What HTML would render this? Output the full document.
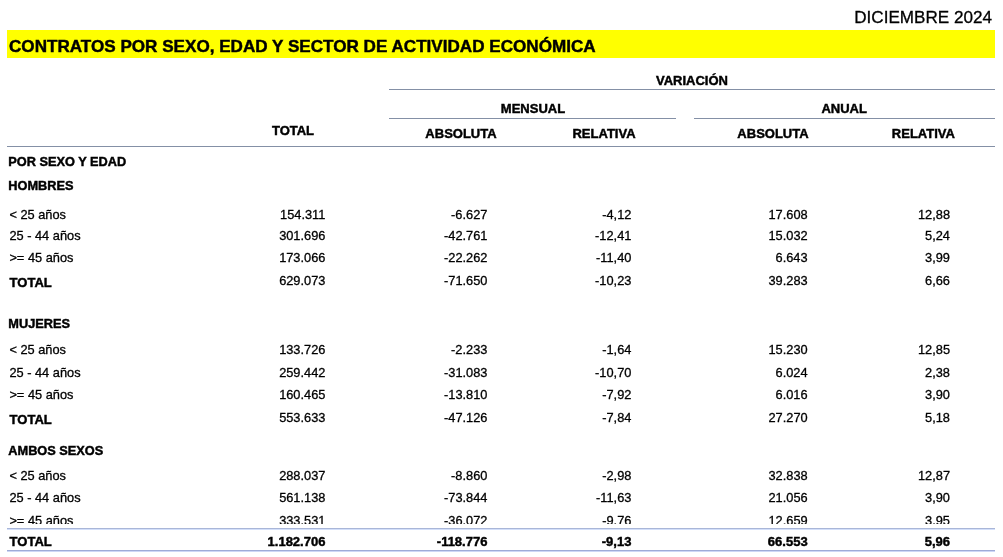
<!DOCTYPE html>
<html><head><meta charset="utf-8">
<style>
html,body{margin:0;padding:0;background:#fff;}
body{width:1003px;height:557px;overflow:hidden;position:relative;font-family:"Liberation Sans",Arial,sans-serif;color:#000;}
.t{position:absolute;white-space:nowrap;line-height:1;-webkit-text-stroke:0.3px #000;}
.b{font-weight:bold;-webkit-text-stroke:0.45px #000;}
.ln{position:absolute;height:1px;background:#8490a6;}
.band{position:absolute;left:6.5px;top:29.7px;width:988px;height:28.3px;background:#ffff00;}
</style></head><body>
<div class="t" style="top:9px;font-size:17.1px;right:11px;">DICIEMBRE 2024</div>
<div class="band"></div>
<div class="t b" style="top:37.5px;font-size:17.1px;left:9px;">CONTRATOS POR SEXO, EDAD Y SECTOR DE ACTIVIDAD ECONÓMICA</div>
<div class="t b" style="top:74px;font-size:13px;left:542px;width:300px;text-align:center;">VARIACIÓN</div>
<div class="ln" style="left:389px;width:605.5px;top:89px;height:1px;background:#8490a6;"></div>
<div class="t b" style="top:102px;font-size:13px;left:383px;width:300px;text-align:center;">MENSUAL</div>
<div class="t b" style="top:102px;font-size:13px;left:694.2px;width:300px;text-align:center;">ANUAL</div>
<div class="ln" style="left:389px;width:287px;top:118px;height:1px;background:#8490a6;"></div>
<div class="ln" style="left:694px;width:300.5px;top:118px;height:1px;background:#8490a6;"></div>
<div class="t b" style="top:124px;font-size:13px;left:143px;width:300px;text-align:center;">TOTAL</div>
<div class="t b" style="top:127px;font-size:13px;left:311px;width:300px;text-align:center;">ABSOLUTA</div>
<div class="t b" style="top:127px;font-size:13px;left:454px;width:300px;text-align:center;">RELATIVA</div>
<div class="t b" style="top:127px;font-size:13px;left:623px;width:300px;text-align:center;">ABSOLUTA</div>
<div class="t b" style="top:127px;font-size:13px;left:773.4px;width:300px;text-align:center;">RELATIVA</div>
<div class="ln" style="left:6.5px;width:988.0px;top:146px;height:1px;background:#8490a6;"></div>
<div class="t b" style="top:156px;font-size:12.75px;left:8.3px;">POR SEXO Y EDAD</div>
<div class="t b" style="top:180px;font-size:12.75px;left:8.3px;">HOMBRES</div>
<div class="t" style="top:209px;font-size:12.8px;left:9.4px;">&lt; 25 años</div>
<div class="t" style="top:209px;font-size:12.8px;right:677.6px;">154.311</div>
<div class="t" style="top:209px;font-size:12.8px;right:515.6px;">-6.627</div>
<div class="t" style="top:209px;font-size:12.8px;right:371.6px;">-4,12</div>
<div class="t" style="top:209px;font-size:12.8px;right:195.39999999999998px;">17.608</div>
<div class="t" style="top:209px;font-size:12.8px;right:53.0px;">12,88</div>
<div class="t" style="top:230px;font-size:12.8px;left:9.4px;">25 - 44 años</div>
<div class="t" style="top:230px;font-size:12.8px;right:677.6px;">301.696</div>
<div class="t" style="top:230px;font-size:12.8px;right:515.6px;">-42.761</div>
<div class="t" style="top:230px;font-size:12.8px;right:371.6px;">-12,41</div>
<div class="t" style="top:230px;font-size:12.8px;right:195.39999999999998px;">15.032</div>
<div class="t" style="top:230px;font-size:12.8px;right:53.0px;">5,24</div>
<div class="t" style="top:252px;font-size:12.8px;left:9.4px;">&gt;= 45 años</div>
<div class="t" style="top:252px;font-size:12.8px;right:677.6px;">173.066</div>
<div class="t" style="top:252px;font-size:12.8px;right:515.6px;">-22.262</div>
<div class="t" style="top:252px;font-size:12.8px;right:371.6px;">-11,40</div>
<div class="t" style="top:252px;font-size:12.8px;right:195.39999999999998px;">6.643</div>
<div class="t" style="top:252px;font-size:12.8px;right:53.0px;">3,99</div>
<div class="t b" style="top:276px;font-size:13px;left:9.6px;">TOTAL</div>
<div class="t" style="top:275px;font-size:12.8px;right:677.6px;">629.073</div>
<div class="t" style="top:275px;font-size:12.8px;right:515.6px;">-71.650</div>
<div class="t" style="top:275px;font-size:12.8px;right:371.6px;">-10,23</div>
<div class="t" style="top:275px;font-size:12.8px;right:195.39999999999998px;">39.283</div>
<div class="t" style="top:275px;font-size:12.8px;right:53.0px;">6,66</div>
<div class="t b" style="top:318px;font-size:12.75px;left:8.3px;">MUJERES</div>
<div class="t" style="top:344px;font-size:12.8px;left:9.4px;">&lt; 25 años</div>
<div class="t" style="top:344px;font-size:12.8px;right:677.6px;">133.726</div>
<div class="t" style="top:344px;font-size:12.8px;right:515.6px;">-2.233</div>
<div class="t" style="top:344px;font-size:12.8px;right:371.6px;">-1,64</div>
<div class="t" style="top:344px;font-size:12.8px;right:195.39999999999998px;">15.230</div>
<div class="t" style="top:344px;font-size:12.8px;right:53.0px;">12,85</div>
<div class="t" style="top:367px;font-size:12.8px;left:9.4px;">25 - 44 años</div>
<div class="t" style="top:367px;font-size:12.8px;right:677.6px;">259.442</div>
<div class="t" style="top:367px;font-size:12.8px;right:515.6px;">-31.083</div>
<div class="t" style="top:367px;font-size:12.8px;right:371.6px;">-10,70</div>
<div class="t" style="top:367px;font-size:12.8px;right:195.39999999999998px;">6.024</div>
<div class="t" style="top:367px;font-size:12.8px;right:53.0px;">2,38</div>
<div class="t" style="top:389px;font-size:12.8px;left:9.4px;">&gt;= 45 años</div>
<div class="t" style="top:389px;font-size:12.8px;right:677.6px;">160.465</div>
<div class="t" style="top:389px;font-size:12.8px;right:515.6px;">-13.810</div>
<div class="t" style="top:389px;font-size:12.8px;right:371.6px;">-7,92</div>
<div class="t" style="top:389px;font-size:12.8px;right:195.39999999999998px;">6.016</div>
<div class="t" style="top:389px;font-size:12.8px;right:53.0px;">3,90</div>
<div class="t b" style="top:413px;font-size:13px;left:9.6px;">TOTAL</div>
<div class="t" style="top:412px;font-size:12.8px;right:677.6px;">553.633</div>
<div class="t" style="top:412px;font-size:12.8px;right:515.6px;">-47.126</div>
<div class="t" style="top:412px;font-size:12.8px;right:371.6px;">-7,84</div>
<div class="t" style="top:412px;font-size:12.8px;right:195.39999999999998px;">27.270</div>
<div class="t" style="top:412px;font-size:12.8px;right:53.0px;">5,18</div>
<div class="t b" style="top:445px;font-size:12.75px;left:8.3px;">AMBOS SEXOS</div>
<div class="t" style="top:470px;font-size:12.8px;left:9.4px;">&lt; 25 años</div>
<div class="t" style="top:470px;font-size:12.8px;right:677.6px;">288.037</div>
<div class="t" style="top:470px;font-size:12.8px;right:515.6px;">-8.860</div>
<div class="t" style="top:470px;font-size:12.8px;right:371.6px;">-2,98</div>
<div class="t" style="top:470px;font-size:12.8px;right:195.39999999999998px;">32.838</div>
<div class="t" style="top:470px;font-size:12.8px;right:53.0px;">12,87</div>
<div class="t" style="top:492px;font-size:12.8px;left:9.4px;">25 - 44 años</div>
<div class="t" style="top:492px;font-size:12.8px;right:677.6px;">561.138</div>
<div class="t" style="top:492px;font-size:12.8px;right:515.6px;">-73.844</div>
<div class="t" style="top:492px;font-size:12.8px;right:371.6px;">-11,63</div>
<div class="t" style="top:492px;font-size:12.8px;right:195.39999999999998px;">21.056</div>
<div class="t" style="top:492px;font-size:12.8px;right:53.0px;">3,90</div>
<div class="t" style="top:515px;font-size:12.8px;left:9.4px;">&gt;= 45 años</div>
<div class="t" style="top:515px;font-size:12.8px;right:677.6px;">333.531</div>
<div class="t" style="top:515px;font-size:12.8px;right:515.6px;">-36.072</div>
<div class="t" style="top:515px;font-size:12.8px;right:371.6px;">-9,76</div>
<div class="t" style="top:515px;font-size:12.8px;right:195.39999999999998px;">12.659</div>
<div class="t" style="top:515px;font-size:12.8px;right:53.0px;">3,95</div>
<div style="position:absolute;left:0;top:524px;width:1003px;height:33px;background:#fff;"></div>
<div class="ln" style="left:6.5px;width:988.0px;top:528px;height:1px;background:#a9b6d8;"></div>
<div class="ln" style="left:6.5px;width:988.0px;top:529px;height:1px;background:#d3dffa;"></div>
<div class="t b" style="top:535px;font-size:13px;left:9.6px;">TOTAL</div>
<div class="t b" style="top:535px;font-size:13px;right:677.6px;">1.182.706</div>
<div class="t b" style="top:535px;font-size:13px;right:515.6px;">-118.776</div>
<div class="t b" style="top:535px;font-size:13px;right:371.6px;">-9,13</div>
<div class="t b" style="top:535px;font-size:13px;right:195.39999999999998px;">66.553</div>
<div class="t b" style="top:535px;font-size:13px;right:53.0px;">5,96</div>
<div class="ln" style="left:6.5px;width:988.0px;top:550px;height:1px;background:#9fabd7;"></div>
<div class="ln" style="left:6.5px;width:988.0px;top:551px;height:1px;background:#cdd7f6;"></div>
</body></html>
